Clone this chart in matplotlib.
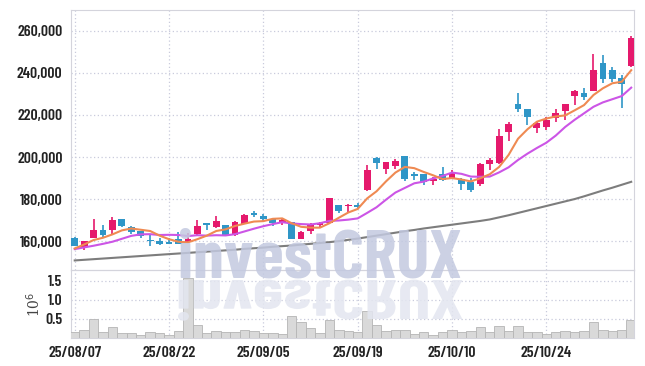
import matplotlib
matplotlib.use('Agg')
import matplotlib.pyplot as plt
from matplotlib.textpath import TextPath
from matplotlib.patches import PathPatch
from matplotlib.font_manager import FontProperties
from matplotlib import transforms

# daily candles, 60 trading days from 25/08/07
opens = [161600, 157300, 161600, 165200, 165400, 170500, 166700, 164800, 160600, 160000,
         159800, 160800, 159400, 163200, 168400, 166800, 167600, 162900, 168300, 173500,
         171900, 170500, 168400, 168900, 161100, 164900, 167800, 168400, 177000, 176500,
         177000, 184300, 199500, 194100, 195900, 200500, 191800, 191800, 188600, 191800,
         190100, 189500, 188100, 187100, 196500, 197000, 211800, 225200, 222700, 213600,
         214400, 218400, 222000, 229200, 230500, 231600, 244900, 241400, 237600, 243300]
highs = [161800, 160200, 170300, 167500, 171400, 170700, 167000, 165000, 163300, 161700,
         161500, 164100, 164000, 170000, 168800, 171900, 167800, 169800, 172700, 174400,
         172900, 170800, 170500, 169200, 164600, 168400, 169000, 180400, 177200, 177500,
         178100, 196000, 199800, 197800, 199000, 200600, 192800, 192000, 190300, 195100,
         193800, 189800, 189800, 197100, 199500, 213200, 216800, 230600, 222900, 217000,
         219200, 222700, 225400, 231900, 233000, 248900, 248600, 242700, 239000, 257600]
lows = [157500, 156000, 161300, 161600, 163300, 166500, 163200, 161600, 157800, 158100,
        158500, 158400, 159000, 162500, 165200, 166000, 162400, 162200, 167900, 171600,
        169200, 167100, 167500, 160800, 160900, 163300, 166800, 168000, 173500, 173700,
        175500, 183800, 194300, 191900, 194100, 188600, 189000, 186700, 186700, 188500,
        189800, 184300, 183500, 186300, 193800, 196500, 207600, 221600, 215200, 211300,
        212900, 216800, 217600, 224700, 227100, 231200, 235400, 235700, 223200, 243000]
closes = [157600, 160000, 165400, 162900, 170000, 167300, 164400, 162500, 159900, 158700,
          158800, 158700, 161000, 167100, 167500, 169500, 162900, 169000, 172400, 172500,
          170500, 168400, 170000, 161000, 164300, 168100, 168700, 180300, 174100, 177000,
          176200, 193800, 197300, 197500, 198000, 189700, 191100, 188300, 189400, 188900,
          192400, 187300, 184100, 196700, 198600, 210000, 215700, 222700, 219200, 216300,
          217600, 220800, 225100, 231400, 228700, 241400, 237000, 237000, 234800, 256500]

# volume in millions of shares
volumes = [0.17, 0.21, 0.50, 0.17, 0.29, 0.14, 0.14, 0.09, 0.16, 0.14,
           0.09, 0.19, 1.57, 0.35, 0.12, 0.19, 0.16, 0.16, 0.21, 0.19,
           0.14, 0.14, 0.11, 0.58, 0.42, 0.27, 0.14, 0.48, 0.21, 0.19,
           0.16, 0.71, 0.35, 0.19, 0.21, 0.21, 0.11, 0.16, 0.07, 0.16,
           0.21, 0.16, 0.19, 0.29, 0.16, 0.31, 0.19, 0.31, 0.16, 0.16,
           0.11, 0.16, 0.19, 0.16, 0.19, 0.42, 0.21, 0.19, 0.21, 0.48]

# moving averages as drawn
ma5 = [156500, 158400, 160500, 161600, 163200, 165100, 166000, 165400, 164800, 162600,
       160900, 159700, 159400, 160900, 162600, 164800, 165600, 167200, 168300, 169300,
       169500, 170600, 170800, 168500, 166800, 166400, 166400, 168500, 171100, 173600,
       175300, 180300, 183700, 188400, 192600, 195300, 194700, 192900, 191300, 189500,
       190000, 189300, 188400, 189900, 191800, 195300, 201000, 208700, 213200, 216800,
       218300, 219300, 219800, 222200, 224700, 229500, 232700, 235100, 235800, 241300]
ma10 = [156200, 157000, 157800, 158700, 159700, 161100, 162500, 163200, 163300, 162900,
        163000, 162900, 162400, 162800, 162600, 162800, 162700, 163300, 164600, 165900,
        167100, 168100, 169000, 168400, 168100, 167900, 168500, 169600, 169800, 170200,
        170800, 173400, 176100, 179700, 183100, 185300, 187500, 188300, 189800, 191000,
        192600, 192000, 190700, 190600, 190700, 192700, 195100, 198600, 201600, 204300,
        206800, 210200, 214300, 217700, 220800, 223900, 226000, 227500, 229000, 233000]
ma_long = [150800, 151100, 151400, 151700, 152000, 152300, 152600, 152900, 153200, 153500,
           153800, 154100, 154400, 154700, 155000, 155300, 155600, 155900, 156300, 156600,
           156900, 157300, 157600, 157900, 158300, 158700, 159100, 159500, 160000, 160600,
           161200, 161900, 162600, 163300, 164000, 164700, 165300, 166000, 166600, 167200,
           167800, 168400, 169000, 169600, 170300, 171300, 172300, 173400, 174500, 175600,
           176700, 177800, 178900, 180000, 181300, 182700, 184100, 185400, 186800, 188200]

tick_pos = [0, 10, 20, 30, 40, 50]
tick_labels = ['25/08/07', '25/08/22', '25/09/05', '25/09/19', '25/10/10', '25/10/24']
price_ticks = [160000, 180000, 200000, 220000, 240000, 260000]
vol_ticks = [0.5, 1.0, 1.5]

UP = '#e5196c'
DOWN = '#2f96c7'
GRID = '#c9cbdc'
SPINE = '#d4d4dc'

lab_font = FontProperties(family=['Barlow Condensed', 'Liberation Sans'], weight=600)
wm_font = FontProperties(family=['Barlow Condensed', 'Liberation Sans'], weight='bold')

fig = plt.figure(figsize=(6.45, 3.66), dpi=100)
ax = fig.add_axes([0.110, 0.262, 0.873, 0.711])
axv = fig.add_axes([0.110, 0.0765, 0.873, 0.1855], sharex=ax)
r = fig.canvas.get_renderer()

# watermark, sized to ~284 px wide, with a faded mirror below
wm = fig.text(0.496, 0.243, 'investCRUX', fontproperties=wm_font, fontsize=40,
              color='#c3c9e0', ha='center', va='baseline', zorder=0, alpha=0.85)
wm.set_fontsize(40 * 284 / wm.get_window_extent(r).width)
tp = TextPath((0, 0), 'investCRUX', size=50, prop=wm_font)
bb = tp.get_extents()
k = 284 / bb.width
tr = (transforms.Affine2D().translate(-bb.width / 2 - bb.x0, 0).scale(k, -0.8 * k)
      .translate(320, 366 - 280).scale(1 / 100) + fig.dpi_scale_trans)
fig.patches.append(PathPatch(tp, transform=tr, facecolor='#e3e6f0', edgecolor='none',
                             zorder=0, alpha=0.85))

x = list(range(len(closes)))
colors = [UP if c >= o else DOWN for o, c in zip(opens, closes)]
bottoms = [min(o, c) for o, c in zip(opens, closes)]
heights = [max(abs(c - o), 300) for o, c in zip(opens, closes)]

ax.vlines(x, lows, highs, colors=colors, linewidth=1.2, zorder=3)
ax.bar(x, heights, bottom=bottoms, width=0.72, color=colors, zorder=4)
ax.plot(x, ma_long, color='#7d7d7d', linewidth=1.5, zorder=5)
ax.plot(x, ma10, color='#cc55e6', linewidth=1.5, zorder=5)
ax.plot(x, ma5, color='#ef8a52', linewidth=1.5, zorder=5)

axv.bar(x, volumes, width=1.0, color='#d9d9d9', edgecolor='#b5b5b5', linewidth=0.6, zorder=3)

ax.set_xlim(-0.4, 59.3)
ax.set_ylim(146200, 270000)
ax.set_yticks(price_ticks)
ax.set_yticklabels([f'{v:,}' for v in price_ticks])
axv.set_ylim(0, 1.78)
axv.set_yticks(vol_ticks)
axv.set_yticklabels([f'{v:.1f}' for v in vol_ticks])
axv.set_xticks(tick_pos)
axv.set_xticklabels(tick_labels)
axv.set_ylabel(r'10$^{6}$', fontsize=10, color='#444444', family='DejaVu Serif')
axv.yaxis.set_label_coords(-0.066, 0.5)
axv.yaxis.label.set_va('center')
ax.tick_params(axis='x', labelbottom=False)

for a in (ax, axv):
    a.set_facecolor('none')
    a.grid(True, color=GRID, linestyle=(0, (1, 2)), linewidth=0.9, zorder=0)
    a.tick_params(length=0, pad=6)
    for s in a.spines.values():
        s.set_color(SPINE)

# size tick labels so "260,000" is ~45 px wide
probe = fig.text(0, 0, '260,000', fontproperties=lab_font, fontsize=10)
fs = 10 * 45 / probe.get_window_extent(r).width
probe.remove()
for lab in ax.get_yticklabels() + axv.get_yticklabels() + axv.get_xticklabels():
    lab.set_fontproperties(lab_font)
    lab.set_fontsize(fs)
    lab.set_color('#222222')

fig.savefig('out.png', dpi=100)
